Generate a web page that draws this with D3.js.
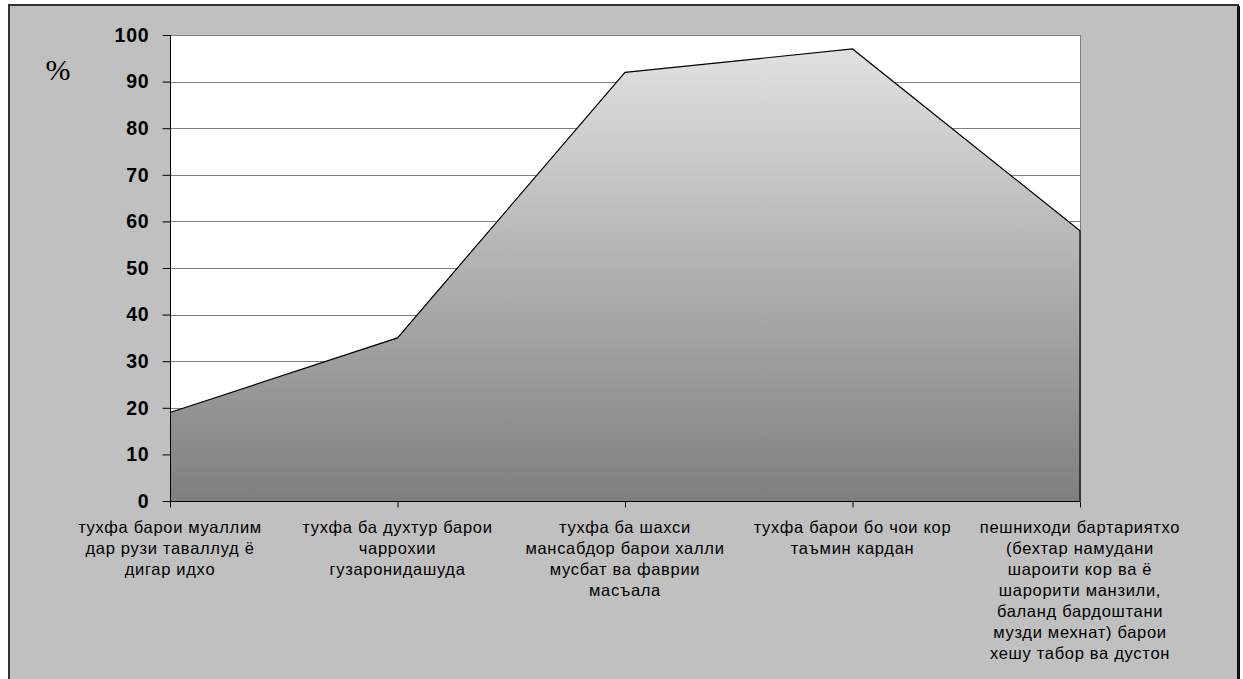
<!DOCTYPE html>
<html>
<head>
<meta charset="utf-8">
<script src="https://cdn.jsdelivr.net/npm/d3@7"></script>
<style>
html,body{margin:0;padding:0;background:#fff;}
svg{display:block;}
</style>
</head>
<body>
<svg id="chart" width="1243" height="679"></svg>
<script>
const categories = [
  ["тухфа барои муаллим", "дар рузи таваллуд ё", "дигар идхо"],
  ["тухфа ба духтур барои", "чаррохии", "гузаронидашуда"],
  ["тухфа ба шахси", "мансабдор барои халли", "мусбат ва фаврии", "масъала"],
  ["тухфа барои бо чои кор", "таъмин кардан"],
  ["пешниходи бартариятхо", "(бехтар намудани", "шароити кор ва ё", "шарорити манзили,", "баланд бардоштани", "музди мехнат) барои", "хешу табор ва дустон"]
];
const values = [19, 35, 92, 97, 58];
const yTicks = [0, 10, 20, 30, 40, 50, 60, 70, 80, 90, 100];
const yLabel = "%";

const svg = d3.select("#chart");
const plot = {left: 170, right: 1080, top: 35, bottom: 501};

// outer chart frame
svg.append("rect").attr("x", 9).attr("y", 5).attr("width", 1229).attr("height", 690)
  .attr("fill", "#c0c0c0").attr("stroke", "#333").attr("stroke-width", 2);
svg.append("line").attr("x1", 1238.5).attr("x2", 1238.5).attr("y1", 6).attr("y2", 679)
  .attr("stroke", "#111").attr("stroke-width", 3);

const x = d3.scalePoint().domain(d3.range(values.length)).range([plot.left, plot.right]);
const y = d3.scaleLinear().domain([0, 100]).range([plot.bottom, plot.top]);

// plot background
svg.append("rect").attr("x", plot.left).attr("y", plot.top)
  .attr("width", plot.right - plot.left).attr("height", plot.bottom - plot.top)
  .attr("fill", "#fff");

// gridlines
svg.append("g").selectAll("line").data(yTicks.filter(d => d > 0)).join("line")
  .attr("x1", plot.left).attr("x2", plot.right)
  .attr("y1", d => Math.round(y(d)) + 0.5).attr("y2", d => Math.round(y(d)) + 0.5)
  .attr("stroke", "#808080").attr("stroke-width", 1);
svg.append("line").attr("x1", plot.right + 0.5).attr("x2", plot.right + 0.5)
  .attr("y1", plot.top).attr("y2", plot.bottom).attr("stroke", "#808080");

// gradient
const defs = svg.append("defs");
const grad = defs.append("linearGradient").attr("id", "g1")
  .attr("gradientUnits", "userSpaceOnUse")
  .attr("x1", 0).attr("x2", 0).attr("y1", plot.top).attr("y2", plot.bottom);
grad.append("stop").attr("offset", "0%").attr("stop-color", "#e4e4e4");
grad.append("stop").attr("offset", "100%").attr("stop-color", "#7f7f7f");

const area = d3.area().x((d, i) => x(i)).y0(y(0)).y1(d => y(d));
svg.append("path").datum(values).attr("d", area).attr("fill", "url(#g1)");
const line = d3.line().x((d, i) => x(i)).y(d => y(d));
svg.append("path").datum(values).attr("d", line).attr("fill", "none")
  .attr("stroke", "#000").attr("stroke-width", 1.2);
svg.append("line").attr("x1", x(values.length - 1)).attr("x2", x(values.length - 1))
  .attr("y1", y(values[values.length - 1])).attr("y2", y(0)).attr("stroke", "#000").attr("stroke-width", 1.2);

// y axis
const yAxis = d3.axisLeft(y).tickValues(yTicks).tickSize(8).tickPadding(13);
const gy = svg.append("g").attr("transform", `translate(${plot.left + 0.5},0)`).call(yAxis);
gy.select(".domain").attr("stroke", "#000").attr("d", `M0,${plot.top}V${plot.bottom}`);
gy.selectAll(".tick line").attr("stroke", "#000");
gy.selectAll(".tick text").attr("font-family", "Liberation Sans, Arial, sans-serif")
  .attr("font-size", 19.5).attr("font-weight", "bold").attr("letter-spacing", 0.8)
  .attr("fill", "#000");

// x axis
const xAxis = d3.axisBottom(x).tickSize(6).tickFormat("");
const gx = svg.append("g").attr("transform", `translate(0,${plot.bottom + 0.5})`).call(xAxis);
gx.select(".domain").attr("stroke", "#000").attr("d", `M${plot.left},0H${plot.right}`);
gx.selectAll(".tick line").attr("stroke", "#000");

// category labels
const lab = svg.append("g").attr("font-family", "Liberation Sans, Arial, sans-serif")
  .attr("font-size", 16.5).attr("letter-spacing", 0.7).attr("fill", "#000").attr("text-anchor", "middle");
categories.forEach((lines, i) => {
  const t = lab.append("text").attr("x", x(i)).attr("y", 533);
  lines.forEach((s, k) => {
    t.append("tspan").attr("x", x(i)).attr("dy", k === 0 ? 0 : 21).text(s);
  });
});

// y label
svg.append("text").attr("x", 58).attr("y", 80).attr("text-anchor", "middle")
  .attr("font-family", "Liberation Serif, Times New Roman, serif").attr("font-size", 30)
  .attr("fill", "#000").text(yLabel);
</script>
</body>
</html>
